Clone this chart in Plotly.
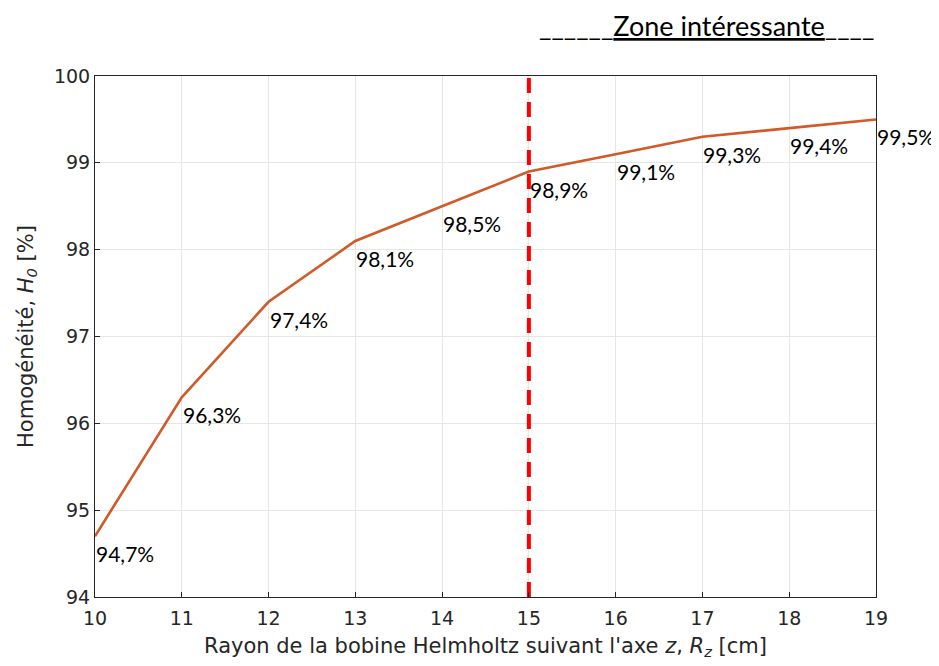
import plotly.graph_objects as go

rayon = [10, 11, 12, 13, 14, 15, 16, 17, 18, 19]
homogeneite = [94.7, 96.3, 97.4, 98.1, 98.5, 98.9, 99.1, 99.3, 99.4, 99.5]
etiquettes = ["94,7%", "96,3%", "97,4%", "98,1%", "98,5%", "98,9%", "99,1%", "99,3%", "99,4%", "99,5%"]
limite_zone = 15
y_min, y_max = 94, 100

fig = go.Figure()
fig.add_trace(go.Scatter(x=rayon, y=homogeneite, mode="lines",
                         line=dict(color="#D05A28", width=2.6), showlegend=False))
fig.add_trace(go.Scatter(x=[limite_zone, limite_zone], y=[y_min, y_max], mode="lines",
                         line=dict(color="#FF0000", width=4, dash="15px,9px"), showlegend=False))

for x, y, t in zip(rayon, homogeneite, etiquettes):
    fig.add_annotation(x=x, y=y, text=t, showarrow=False, xanchor="left", yanchor="top",
                       xshift=-1, yshift=-3,
                       font=dict(family="Lato, Carlito, sans-serif", size=21, color="black"))

fig.add_annotation(xref="paper", yref="paper", x=1, y=1.096, xanchor="right", yanchor="middle",
                   text="______<u>Zone intéressante</u>____", showarrow=False,
                   font=dict(family="Lato, Carlito, sans-serif", size=27, color="black"))

axis_common = dict(showline=True, mirror=True, linecolor="#262626", linewidth=1,
                   ticks="inside", ticklen=5, tickcolor="#262626",
                   showgrid=True, gridcolor="#E6E6E6", gridwidth=1, zeroline=False,
                   tickfont=dict(family="DejaVu Sans", size=19, color="#262626"))

fig.update_xaxes(range=[10, 19], dtick=1, ticklabelstandoff=4, **axis_common,
                 title=dict(text="Rayon de la bobine Helmholtz suivant l'axe <i>z</i>, <i>R<sub>z</sub></i> [cm]",
                            font=dict(family="DejaVu Sans", size=21, color="#262626"), standoff=10))
fig.update_yaxes(range=[y_min, y_max], dtick=1, **axis_common,
                 title=dict(text="Homogénéité, <i>H<sub>0</sub></i> [%]",
                            font=dict(family="DejaVu Sans", size=21, color="#262626"), standoff=14))

fig.update_layout(width=931, height=658, plot_bgcolor="white", paper_bgcolor="white",
                  margin=dict(l=87, r=63, t=68, b=69))
fig.write_html("out.html")
